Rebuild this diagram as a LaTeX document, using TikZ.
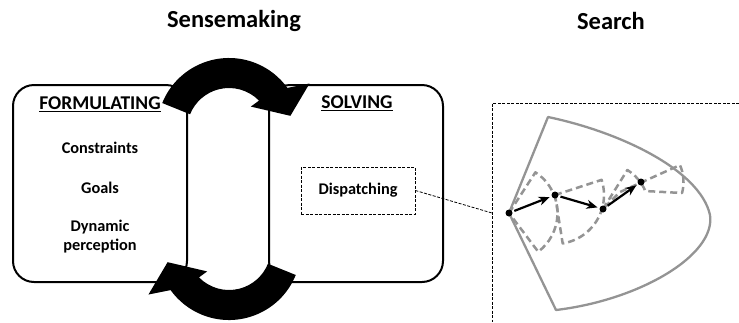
\documentclass[tikz,border=0pt]{standalone}
\usepackage{fontspec}
\setmainfont{Carlito}
\usetikzlibrary{arrows.meta,calc}
\begin{document}
\begin{tikzpicture}[x=1pt,y=-1pt,
  box/.style={draw=black, line width=2pt, rounded corners=21pt, minimum width=174pt, minimum height=197pt, inner sep=0pt},
  headtxt/.style={font=\bfseries\fontsize{19.5}{22}\selectfont},
  itemtxt/.style={font=\bfseries\fontsize{16.3}{19}\selectfont, align=center},
  titletxt/.style={font=\bfseries\fontsize{24.5}{28}\selectfont},
  fanline/.style={draw=black!42, line width=2.3pt, line join=round},
  cone/.style={draw=black!42, line width=2.5pt, dash pattern=on 7pt off 4pt, line join=round},
  dot/.style={circle, fill=black, inner sep=0pt, minimum size=7pt},
  movearrow/.style={-{Stealth[length=11pt,width=9pt,inset=3.5pt]}, line width=2.2pt, shorten >=2pt, shorten <=2pt},
  thindash/.style={line width=0.8pt, dash pattern=on 3pt off 1.5pt}
]
\useasboundingbox (0,0) rectangle (739,322);

% titles
\node[titletxt] (t1) at (234,21) {Sensemaking};
\node[titletxt] (t2) at (611,21) {Search};

% boxes
\node[box] (form) at (100,183.5) {};
\node[box] (solv) at (356,183.5) {};

\node[headtxt] (fh) at (100,104) {\underline{FORMULATING}};
\node[itemtxt] (cons) at (100,148) {Constraints};
\node[itemtxt] (goal) at (100,188) {Goals};
\node[itemtxt] (dyn) at (100,237) {Dynamic\\perception};
\node[headtxt] (sh) at (357,103) {\underline{SOLVING}};
\node[itemtxt, draw, thindash, minimum width=114pt, minimum height=47pt] (disp) at (358,190.5) {Dispatching};

% cycle arrows
\coordinate (C1) at (229,130);
\coordinate (C2) at (229,248);
\fill[black] ([shift={(-158:72)}]C1) arc[start angle=-158, end angle=-35.8, radius=72]
  -- ([shift={(-30:93)}]C1) -- ([shift={(-13:63)}]C1) -- ([shift={(-47:32)}]C1)
  -- ([shift={(-44.4:42)}]C1) arc[start angle=-44.4, end angle=-158, radius=42] -- cycle;
\fill[black] ([shift={(22:72)}]C2) arc[start angle=22, end angle=144.2, radius=72]
  -- ([shift={(150:93)}]C2) -- ([shift={(167:63)}]C2) -- ([shift={(133:32)}]C2)
  -- ([shift={(135.6:42)}]C2) arc[start angle=135.6, end angle=22, radius=42] -- cycle;

% search frame
\draw[thindash] (739,103) -- (492,103) -- (492,322);
\coordinate (sbl) at (492,213);
\draw[thindash] (disp.east) -- (sbl);

% points
\coordinate (A1) at (509,213);
\coordinate (A2) at (555,195);
\coordinate (A3) at (603,209);
\coordinate (A4) at (641,182);

% fan
\draw[fanline] (A1) -- (548,117) .. controls (620,132) and (700,170) .. (710,215)
  .. controls (716,255) and (640,300) .. (556,310) -- cycle;

% dashed cones
\draw[cone] (A1) -- ++(-57:48.5) arc[start angle=-57, end angle=53, radius=48.5] -- cycle;
\draw[cone] (A2) -- ++(-18:49) arc[start angle=-18, end angle=81, radius=49] -- cycle;
\draw[cone] (A3) -- ++(-58:46) arc[start angle=-58, end angle=-23, radius=46]
  -- ([shift={(15:42.5)}]A4) arc[start angle=15, end angle=-23.5, radius=42.5] -- (620,192) -- cycle;

% moves
\node[dot] (p1) at (A1) {};
\node[dot] (p2) at (A2) {};
\node[dot] (p3) at (A3) {};
\node[dot] (p4) at (A4) {};
\draw[movearrow] (p1) -- (p2);
\draw[movearrow] (p2) -- (p3);
\draw[movearrow] (p3) -- (p4);
\end{tikzpicture}
\end{document}
